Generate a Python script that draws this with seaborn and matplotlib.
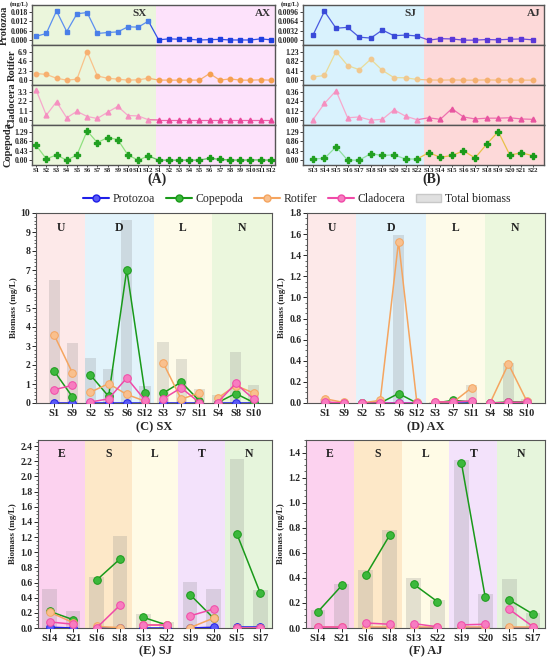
import numpy as np
import pandas as pd
import seaborn as sns
import matplotlib.pyplot as plt
from matplotlib.patches import Patch
from matplotlib.lines import Line2D

# ---------------------------------------------------------------
# Données : panneaux (A) et (B)
# ---------------------------------------------------------------
stations_A = [f"S{i}" for i in range(1, 13)] * 2
prot_A = [0.0024, 0.0042, 0.0184, 0.0054, 0.0166, 0.0174, 0.0042, 0.0048, 0.0052, 0.0084, 0.0082, 0.0120,
          0.0002, 0.0008, 0.0006, 0.0005, 0.0001, 0.0003, 0.0005, 0.0001, 0.0001, 0.0001, 0.0008, 0.0002]
rot_A = [1.6, 1.38, 0.46, 0.0, 0.23, 6.9, 1.0, 0.46, 0.23, 0.0, 0.08, 0.46,
         0.02, 0.0, 0.0, 0.0, 0.02, 1.6, 0.0, 0.3, 0.0, 0.0, 0.08, 0.0]
clad_A = [3.5, 0.57, 2.12, 0.27, 1.02, 0.42, 0.19, 0.91, 1.59, 0.53, 0.49, 0.04,
          0.02, 0.02, 0.02, 0.02, 0.02, 0.02, 0.02, 0.02, 0.02, 0.02, 0.02, 0.02]
cope_A = [0.67, 0.06, 0.23, 0.0, 0.23, 1.32, 0.79, 1.02, 0.93, 0.23, 0.0, 0.19,
          0.0, 0.0, 0.0, 0.0, 0.0, 0.09, 0.03, 0.01, 0.0, 0.01, 0.01, 0.0]

stations_B = [f"S{i}" for i in range(13, 23)] * 2
prot_B = [0.0016, 0.0097, 0.0040, 0.0043, 0.0010, 0.0007, 0.0034, 0.0015, 0.0017, 0.0014,
          0.0000, 0.0005, 0.0004, 0.0000, 0.0000, 0.0002, 0.0001, 0.0003, 0.0004, 0.0001]
rot_B = [0.14, 0.2, 1.23, 0.63, 0.45, 0.9, 0.42, 0.11, 0.1, 0.03,
         0.01, 0.0, 0.01, 0.0, 0.0, 0.01, 0.0, 0.0, 0.0, 0.0]
clad_B = [0.005, 0.21, 0.37, 0.03, 0.04, 0.0, 0.01, 0.13, 0.05, 0.005,
          0.03, 0.01, 0.145, 0.04, 0.015, 0.025, 0.025, 0.03, 0.015, 0.01]
cope_B = [0.05, 0.08, 0.6, 0.0, 0.0, 0.29, 0.21, 0.24, 0.05, 0.05,
          0.34, 0.13, 0.21, 0.42, 0.1, 0.72, 1.29, 0.23, 0.33, 0.2]

# ---------------------------------------------------------------
# Données : panneaux (C)-(F)
# ---------------------------------------------------------------
st_CD = ["S1", "S9", "S2", "S5", "S6", "S12", "S3", "S7", "S11", "S4", "S8", "S10"]
grp_CD = ["U", "U", "D", "D", "D", "D", "L", "L", "L", "N", "N", "N"]
tot_C = [6.5, 3.15, 2.35, 1.8, 9.65, 0.9, 3.2, 2.3, 0.75, 0.4, 2.7, 0.95]
prot_C = [0.0, 0.0, 0.0, 0.0, 0.0, 0.0, 0.0, 0.0, 0.0, 0.0, 0.0, 0.0]
cope_C = [1.68, 0.33, 1.47, 0.35, 7.02, 0.55, 0.52, 1.1, 0.12, 0.02, 0.5, 0.02]
rot_C = [3.58, 1.6, 0.57, 1.02, 0.45, 0.1, 2.12, 0.2, 0.53, 0.25, 0.92, 0.52]
clad_C = [0.7, 0.93, 0.05, 0.22, 1.32, 0.15, 0.22, 0.8, 0.02, 0.02, 1.03, 0.2]

tot_D = [0.04, 0.005, 0.0, 0.03, 1.59, 0.005, 0.01, 0.03, 0.17, 0.0, 0.38, 0.04]
prot_D = [0.0, 0.0, 0.0, 0.0, 0.0, 0.0, 0.0, 0.0, 0.0, 0.0, 0.0, 0.0]
cope_D = [0.0, 0.0, 0.0, 0.0, 0.09, 0.0, 0.0, 0.025, 0.01, 0.0, 0.01, 0.01]
rot_D = [0.04, 0.005, 0.0, 0.025, 1.53, 0.005, 0.01, 0.01, 0.145, 0.0, 0.37, 0.02]
clad_D = [0.01, 0.0, 0.0, 0.0, 0.0, 0.0, 0.01, 0.01, 0.02, 0.0, 0.005, 0.01]

st_EF = ["S14", "S21", "S16", "S18", "S13", "S22", "S19", "S20", "S15", "S17"]
grp_EF = ["E", "E", "S", "S", "L", "L", "T", "T", "N", "N"]
tot_E = [0.52, 0.22, 0.67, 1.22, 0.19, 0.08, 0.61, 0.51, 2.23, 0.5]
prot_E = [0.01, 0.0, 0.0, 0.0, 0.0, 0.0, 0.0, 0.01, 0.01, 0.01]
cope_E = [0.22, 0.11, 0.63, 0.91, 0.14, 0.04, 0.44, 0.13, 1.24, 0.46]
rot_E = [0.21, 0.07, 0.02, 0.005, 0.04, 0.04, 0.005, 0.13, 0.0, 0.0]
clad_E = [0.08, 0.05, 0.0, 0.3, 0.04, 0.04, 0.16, 0.25, 0.0, 0.0]

tot_F = [0.14, 0.35, 0.46, 0.78, 0.4, 0.22, 1.34, 0.27, 0.39, 0.12]
prot_F = [0.0, 0.0, 0.0, 0.0, 0.0, 0.0, 0.0, 0.0, 0.0, 0.0]
cope_F = [0.13, 0.34, 0.42, 0.74, 0.35, 0.21, 1.32, 0.245, 0.225, 0.11]
rot_F = [0.005, 0.005, 0.005, 0.005, 0.005, 0.005, 0.005, 0.005, 0.005, 0.005]
clad_F = [0.01, 0.01, 0.04, 0.03, 0.035, 0.01, 0.025, 0.03, 0.15, 0.01]

# ---------------------------------------------------------------
# Style
# ---------------------------------------------------------------
sns.set_theme(style="ticks")
plt.rcParams['font.family'] = ['Liberation Serif', 'DejaVu Serif']
plt.rcParams['font.weight'] = 'bold'
plt.rcParams['axes.labelweight'] = 'bold'
plt.rcParams['axes.edgecolor'] = '#555555'

C_PROT, C_COPE, C_ROT, C_CLAD = "#1f1fe8", "#1a9a1a", "#f5a560", "#f04aa8"
C_FACE = {C_PROT: "#5a5af5", C_COPE: "#3cb83c", C_ROT: "#f9c08e", C_CLAD: "#f77cc0"}

fig = plt.figure(figsize=(5.5, 6.61), dpi=100)


def panneau_haut(x0, w, stations, series, couleurs, fonds, limite, xlim, lab_zones, titre, ylabels):
    """Quatre lignes empilées (Protozoa, Rotifer, Cladocera, Copepoda)."""
    h = 160 / 661 / 4
    y0 = 1 - 165 / 661
    axes = []
    for k in range(4):
        ax = fig.add_axes([x0, y0 + (3 - k) * h, w, h])
        axes.append(ax)
        ax.axvspan(xlim[0], limite, color=fonds[0], zorder=0, lw=0)
        ax.axvspan(limite, xlim[1], color=fonds[1], zorder=0, lw=0)
        vals, ticks, mk, ms = series[k]
        n = len(vals) // 2
        pos = np.arange(len(vals))
        for j, (a, b) in enumerate([(0, n), (n, 2 * n)]):
            lc, mc = couleurs[k][j]
            sns.lineplot(x=pos[a:b], y=vals[a:b], ax=ax, color=lc, lw=0.9, legend=False, zorder=3)
            ax.plot(pos[a:b], vals[a:b], ls="none", marker=mk, ms=ms, color=mc, mec=mc, zorder=4)
        ax.plot([n - 1, n], vals[n - 1:n + 1], color=couleurs[k][1][0], lw=0.9, zorder=3)
        ax.set_xlim(*xlim)
        ax.set_yticks(ticks)
        span = ticks[-1] - ticks[0]
        ax.set_ylim(ticks[0] - span * 0.17, ticks[-1] + span * 0.23)
        ax.set_yticklabels(ylabels[k], fontsize=5.6)
        ax.tick_params(axis="y", length=2, width=0.6, pad=1)
        ax.set_ylabel(["Protozoa", "Rotifer", "Cladocera", "Copepoda"][k] if lab_zones else "",
                      fontsize=7.5, labelpad=1)
        for s in ax.spines.values():
            s.set_linewidth(1.0)
        ax.set_xticks(pos)
        if k < 3:
            ax.set_xticklabels([])
            ax.tick_params(axis="x", length=0)
        else:
            ax.set_xticklabels(stations, fontsize=4.9)
            ax.tick_params(axis="x", length=1.5, width=0.6, pad=0.5)
    axes[0].text(0.47, 0.72, titre[0], transform=axes[0].transAxes, ha="right", fontsize=8, color="#333333")
    axes[0].text(0.985, 0.72, titre[1], transform=axes[0].transAxes, ha="right", fontsize=8, color="#333333")
    axes[0].text(-0.015, 1.02, "(mg/L)", transform=axes[0].transAxes, fontsize=4.6, va="center", ha="right")
    return axes


def fmt(ticks, d):
    return [f"{t:.{d}f}" for t in ticks]


# (A)
t_pa = [0.0, 0.006, 0.012, 0.018]
t_ra = [0.0, 2.3, 4.6, 6.9]
t_ca = [0.0, 1.1, 2.2, 3.3]
t_co = [0.0, 0.43, 0.86, 1.29]
panneau_haut(32 / 550, 243 / 550, stations_A,
             [(prot_A, t_pa, "s", 3.2), (rot_A, t_ra, "o", 3.2), (clad_A, t_ca, "^", 3.5), (cope_A, t_co, "P", 4)],
             [[("#5b8ff0", "#4a7fe8"), ("#3050e8", "#1f3fe0")],
              [("#f9c28a", "#f7b070"), ("#f7b070", "#f5a050")],
              [("#f7a8cc", "#f590c0"), ("#ee60a8", "#e8479a")],
              [("#8fe080", "#22a022"), ("#60c060", "#1a9a1a")]],
             ["#ebf6dc", "#fde2fb"], 11.7, (-0.4, 23.4), True, ("SX", "AX"),
             [fmt(t_pa, 3), fmt(t_ra, 1), fmt(t_ca, 1), fmt(t_co, 2)])
fig.text(0.285, 1 - 179 / 661, "(A)", ha="center", va="center", fontsize=10)

# (B)
t_pb = [0.0, 0.0032, 0.0064, 0.0096]
t_rb = [0.0, 0.41, 0.82, 1.23]
t_cb = [0.0, 0.12, 0.24, 0.36]
panneau_haut(303 / 550, 241 / 550, stations_B,
             [(prot_B, t_pb, "s", 3.2), (rot_B, t_rb, "o", 3.2), (clad_B, t_cb, "^", 3.5), (cope_B, t_co, "P", 4)],
             [[("#4a5ae0", "#3a4ad8"), ("#6a48e0", "#5a38d8")],
              [("#e8dc9a", "#f0c890"), ("#f5c080", "#f5b070")],
              [("#f7a8cc", "#f590c0"), ("#ee70b0", "#e8559f")],
              [("#90e0a0", "#22a022"), ("#e8c048", "#1a9a1a")]],
             ["#d9f2fd", "#fdd9d9"], 9.6, (-0.85, 19.95), False, ("SJ", "AJ"),
             [fmt(t_pb, 4), fmt(t_rb, 2), fmt(t_cb, 2), fmt(t_co, 2)])
fig.text(0.785, 1 - 179 / 661, "(B)", ha="center", va="center", fontsize=10)


def panneau_bas(rect, stations, groupes, tot, prot, cope, rot, clad, zones, couleurs, xlim, ylim, yticks,
                titre, y_titre):
    ax = fig.add_axes(rect)
    for (a, b), c, lab in zip(zones, couleurs, dict.fromkeys(groupes)):
        ax.axvspan(a, b, color=c, zorder=0, lw=0)
        ax.text((a + b) / 2, ylim[1] * 0.955, lab, ha="center", va="top", fontsize=8.5, color="#222222")
    pos = np.arange(len(stations))
    ax.bar(pos, tot, width=0.62, color="#808080", alpha=0.22, zorder=1, lw=0)
    df = pd.DataFrame({"pos": pos, "grp": groupes})
    for vals, c in [(prot, C_PROT), (cope, C_COPE), (rot, C_ROT), (clad, C_CLAD)]:
        df["v"] = vals
        for g, sub in df.groupby("grp", sort=False):
            sns.lineplot(data=sub, x="pos", y="v", ax=ax, color=c, lw=1.1, marker="o", ms=5.5,
                         mec=c, mfc=C_FACE[c], mew=0.7, legend=False, zorder=3)
    ax.set_xlim(*xlim)
    ax.set_ylim(*ylim)
    ax.set_yticks(yticks)
    ax.set_yticklabels([f"{t:g}" if ylim[1] > 5 else f"{t:.1f}" for t in yticks], fontsize=7)
    ax.minorticks_on()
    ax.tick_params(axis="x", which="minor", bottom=False)
    ax.tick_params(axis="y", which="major", length=3, width=0.7, pad=1)
    ax.tick_params(axis="y", which="minor", length=1.5, width=0.5)
    ax.set_xticks(pos)
    ax.set_xticklabels(stations, fontsize=7.5)
    ax.tick_params(axis="x", length=3, width=0.7, pad=1.5)
    ax.set_xlabel("")
    ax.set_ylabel("Biomass (mg/L)", fontsize=6.5, labelpad=2)
    x_c = rect[0] + rect[2] / 2
    fig.text(x_c, 1 - y_titre / 661, titre, ha="center", va="center", fontsize=9)
    for s in ax.spines.values():
        s.set_linewidth(0.8)
    return ax


fonds_CD = ["#fde9e9", "#e2f3fb", "#fefbe9", "#ebf7dd"]
zones_CD = [(-1, 1.7), (1.7, 5.5), (5.5, 8.7), (8.7, 12)]
fonds_EF = ["#fcd2ef", "#fde8c8", "#fffbe6", "#f3e2fb", "#e6f5dc"]
zones_EF = [(-0.5, 1.5), (1.5, 3.5), (3.5, 5.5), (5.5, 7.5), (7.5, 9.5)]

panneau_bas([36 / 550, 1 - 403 / 661, 236 / 550, 190 / 661], st_CD, grp_CD, tot_C, prot_C, cope_C, rot_C, clad_C,
            zones_CD, fonds_CD, (-1, 12), (0, 10), list(range(0, 11)), "(C) SX", 427)
panneau_bas([307 / 550, 1 - 403 / 661, 238 / 550, 190 / 661], st_CD, grp_CD, tot_D, prot_D, cope_D, rot_D, clad_D,
            zones_CD, fonds_CD, (-1, 12), (0, 1.8), list(np.arange(0, 1.81, 0.2)), "(D) AX", 427)
panneau_bas([38 / 550, 1 - 628 / 661, 234 / 550, 188 / 661], st_EF, grp_EF, tot_E, prot_E, cope_E, rot_E, clad_E,
            zones_EF, fonds_EF, (-0.5, 9.5), (0, 2.48), list(np.arange(0, 2.41, 0.2)), "(E) SJ", 651)
panneau_bas([306 / 550, 1 - 628 / 661, 239 / 550, 188 / 661], st_EF, grp_EF, tot_F, prot_F, cope_F, rot_F, clad_F,
            zones_EF, fonds_EF, (-0.5, 9.5), (0, 1.5), list(np.arange(0, 1.41, 0.2)), "(F) AJ", 651)

# Légende commune
poignees = [Line2D([], [], color=c, marker="o", ms=5, lw=1.5, mfc=C_FACE[c], label=l)
            for c, l in [(C_PROT, "Protozoa"), (C_COPE, "Copepoda"), (C_ROT, "Rotifer"), (C_CLAD, "Cladocera")]]
poignees.append(Patch(facecolor="#e0e0e0", edgecolor="#c8c8c8", label="Total biomass"))
fig.legend(handles=poignees, loc="center", bbox_to_anchor=(0.54, 1 - 199 / 661), ncol=5, frameon=False,
           handlelength=2.2, handletextpad=0.3, columnspacing=0.9,
           prop={"weight": "normal", "size": 8.5})

fig.savefig("out.png", dpi=100)
